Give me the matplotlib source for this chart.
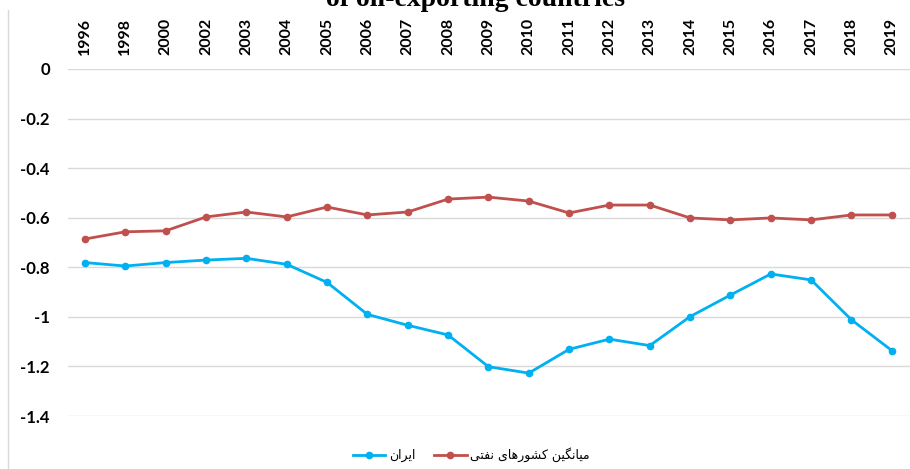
import matplotlib.pyplot as plt
from matplotlib.lines import Line2D

years = ['1996', '1998', '2000', '2002', '2003', '2004', '2005', '2006', '2007', '2008', '2009',
         '2010', '2011', '2012', '2013', '2014', '2015', '2016', '2017', '2018', '2019']
iran = [-0.781, -0.795, -0.781, -0.771, -0.764, -0.788, -0.861, -0.99, -1.034, -1.073, -1.201,
        -1.227, -1.131, -1.09, -1.116, -0.999, -0.912, -0.827, -0.851, -1.012, -1.136]
oil_avg = [-0.686, -0.657, -0.653, -0.597, -0.577, -0.597, -0.557, -0.589, -0.577, -0.525, -0.517,
           -0.533, -0.581, -0.549, -0.549, -0.601, -0.609, -0.601, -0.609, -0.589, -0.589]
yticks = [0, -0.2, -0.4, -0.6, -0.8, -1, -1.2, -1.4]
label_iran = 'ایران'
label_avg = 'میانگین کشورهای نفتی'
title = 'of oil-exporting countries'

# matplotlib has no arabic shaping, so pick presentation forms by hand
# (isolated, final, initial, medial)
FORMS = {
    'ا': ('\ufe8d', '\ufe8e', None, None),
    'ر': ('\ufead', '\ufeae', None, None),
    'و': ('\ufeed', '\ufeee', None, None),
    'ی': ('\ufbfc', '\ufbfd', '\ufbfe', '\ufbff'),
    'ن': ('\ufee5', '\ufee6', '\ufee7', '\ufee8'),
    'م': ('\ufee1', '\ufee2', '\ufee3', '\ufee4'),
    'گ': ('\ufb92', '\ufb93', '\ufb94', '\ufb95'),
    'ک': ('\ufb8e', '\ufb8f', '\ufb90', '\ufb91'),
    'ش': ('\ufeb5', '\ufeb6', '\ufeb7', '\ufeb8'),
    'ه': ('\ufee9', '\ufeea', '\ufeeb', '\ufeec'),
    'ف': ('\ufed1', '\ufed2', '\ufed3', '\ufed4'),
    'ت': ('\ufe95', '\ufe96', '\ufe97', '\ufe98'),
}


def shape(text):
    out = []
    for i, ch in enumerate(text):
        if ch not in FORMS:
            out.append(ch)
            continue
        prev = text[i - 1] if i > 0 else ''
        nxt = text[i + 1] if i + 1 < len(text) else ''
        join_prev = prev in FORMS and FORMS[prev][2] is not None
        join_next = FORMS[ch][2] is not None and nxt in FORMS
        iso, fin, ini, med = FORMS[ch]
        if join_prev and join_next:
            out.append(med)
        elif join_prev:
            out.append(fin)
        elif join_next:
            out.append(ini)
        else:
            out.append(iso)
    return ''.join(reversed(out))


blue = '#00B0F0'
red = '#C0504D'

fig = plt.figure(figsize=(9.1, 4.69), dpi=100)
ax = fig.add_axes([68 / 910, 0.113, 842 / 910, 0.74])

x = list(range(len(years)))
l1, = ax.plot(x, iran, color=blue, lw=2, marker='o', ms=4.5, label=shape(label_iran))
l2, = ax.plot(x, oil_avg, color=red, lw=2, marker='o', ms=4.5, label=shape(label_avg))

ax.set_xlim(-0.42, len(years) - 1 + 0.45)
ax.set_ylim(-1.4, 0)
ax.set_yticks(yticks)
ax.set_yticklabels([('%g' % v) for v in yticks], fontfamily='Lato', fontweight='bold', fontsize=12)
ax.yaxis.grid(True, color='#D9D9D9', lw=1)
ax.set_axisbelow(True)
ax.xaxis.tick_top()
ax.set_xticks(x)
ax.set_xticklabels(years, rotation=90, fontfamily='Lato', fontweight='bold', fontsize=11.5)
ax.tick_params(axis='x', length=0, pad=10)
ax.tick_params(axis='y', length=0, pad=13)
for s in ax.spines.values():
    s.set_visible(False)

fig.legend(handles=[l1, l2], loc='center', bbox_to_anchor=(0.518, 0.03), ncol=2, frameon=False,
           prop={'family': 'DejaVu Sans', 'size': 9}, handlelength=2.6, columnspacing=1.5,
           handletextpad=0.3)

fig.text(0.523, 1 - 6 / 469, title, ha='center', va='baseline', fontfamily='Liberation Serif',
         fontweight='bold', fontsize=20)
fig.add_artist(Line2D([8 / 910, 8 / 910], [0, 1 - 10 / 469], color='#D9D9D9', lw=1,
                      transform=fig.transFigure))

fig.savefig('out.png', dpi=100)
